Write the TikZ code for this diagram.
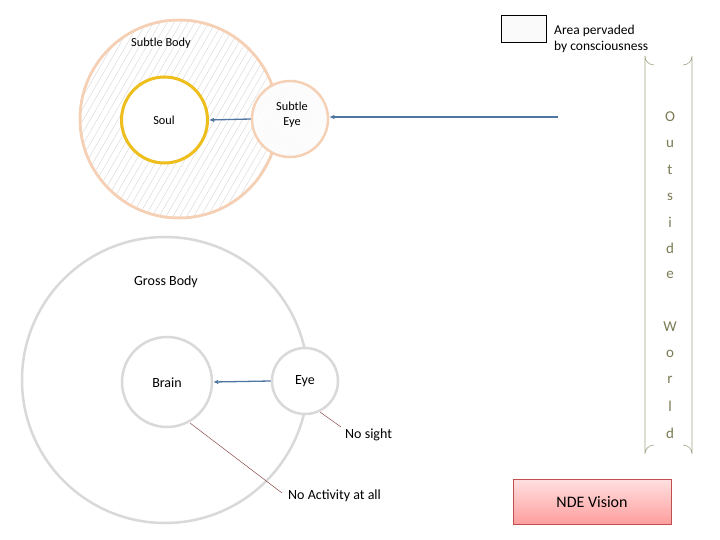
\documentclass[tikz,border=0pt]{standalone}
\usepackage{fontspec}
\setmainfont{Carlito}
\usetikzlibrary{patterns.meta,arrows.meta}
\definecolor{peach}{HTML}{F5D0B5}
\definecolor{gold}{HTML}{EDBE1C}
\definecolor{grossgray}{HTML}{D9D9D9}
\definecolor{arrowblue}{HTML}{4F76A0}
\definecolor{leadred}{HTML}{8C4A4A}
\definecolor{olive}{HTML}{7B7B55}
\definecolor{ndeborder}{HTML}{C0504D}
\tikzset{
  lbl/.style={font=\fontsize{12.3}{15}\selectfont, align=center, inner sep=0pt},
  lblb/.style={font=\fontsize{14}{16}\selectfont, align=center, inner sep=0pt},
  conn/.style={draw=arrowblue, line width=1.3pt, -{Latex[length=5pt,width=4.5pt]}},
  lead/.style={draw=leadred, line width=0.5pt},
  subtlec/.style={circle, draw=peach, line width=2.5pt, inner sep=0pt},
  grossc/.style={circle, draw=grossgray, line width=2.5pt, inner sep=0pt},
}
\begin{document}
\begin{tikzpicture}[x=1pt,y=-1pt]
\useasboundingbox (0,0) rectangle (720,540);
\fill[white] (0,0) rectangle (720,540);
% Subtle body
\node[subtlec, minimum size=198pt, pattern={Lines[angle=60,distance=6pt,line width=0.35pt]}, pattern color=gray!35] (sb) at (179,119) {};
\node[subtlec, minimum size=198pt] at (179,119) {};
\node[lbl] (sbl) at (161,43) {Subtle Body};
% Soul
\node[circle, draw=gold, line width=3pt, fill=white, minimum size=86pt, inner sep=0pt] (soul) at (164.5,120) {};
\node[lbl] (soull) at (164,120) {Soul};
% Subtle eye
\node[subtlec, minimum size=76pt, fill=white] (se) at (290,119) {};
\node[circle, minimum size=74pt, pattern={Lines[angle=60,distance=2pt,line width=0.2pt]}, pattern color=gray!12] at (290,119) {};
\node[lbl] (sel) at (292,114.5) {Subtle\\Eye};
% outside connectors
\coordinate (outA) at (558,117);
\draw[conn] (outA) -- (se.east |- outA);
\draw[conn] (se.west) -- (soul.east);
% Gross body
\node[grossc, minimum size=286pt] (gb) at (165,380) {};
\node[lblb] (gbl) at (166,282) {Gross Body};
\node[grossc, minimum size=90pt, fill=white] (brain) at (167,382) {};
\node[lblb] (brainl) at (167,383) {Brain};
\node[grossc, minimum size=66pt, fill=white] (eye) at (305,381) {};
\node[lblb] (eyel) at (305,381) {Eye};
\draw[conn] (eye.west) -- (brain.east);
% leaders
\node[lblb, anchor=west] (ns) at (345,435) {No sight};
\node[lblb, anchor=west] (na) at (288,496) {No Activity at all};
\coordinate (nsA) at (320,412);
\coordinate (nsB) at (341,427);
\draw[lead] (nsA) -- (nsB);
\coordinate (naA) at (190,423);
\coordinate (naB) at (282,493);
\draw[lead] (naA) -- (naB);
% legend
\node[draw=black, line width=1.8pt, fill=gray!4, minimum width=45pt, minimum height=27pt, inner sep=0pt] (leg) at (524,29) {};
\node[lblb, anchor=west, align=left, font=\fontsize{13.5}{16}\selectfont] (legl) at (554,39) {Area pervaded\\by consciousness};
% Outside world bracket
\draw[olive!70, line width=0.6pt] (654,65) arc[start angle=90,end angle=180,radius=9] -- (645,454) arc[start angle=180,end angle=270,radius=9];
\draw[olive!70, line width=0.6pt] (683,65) arc[start angle=90,end angle=0,radius=9] -- (692,454) arc[start angle=0,end angle=-90,radius=9];
\foreach \ch/\yy in {O/117,u/144,t/170,s/197,i/222,d/248,e/275,W/327,o/354,r/380,l/406,d/433}{
  \node[font=\fontsize{15}{16}\selectfont, text=olive, inner sep=0pt] at (670,\yy) {\ch};
}
% NDE
\node[draw=ndeborder, line width=0.8pt, top color=red!12, bottom color=red!38, minimum width=158pt, minimum height=45pt, inner sep=0pt] (nde) at (592,501.5) {};
\node[font=\fontsize{16}{17}\selectfont, inner sep=0pt] (ndel) at (592,502) {NDE Vision};
\end{tikzpicture}
\end{document}
